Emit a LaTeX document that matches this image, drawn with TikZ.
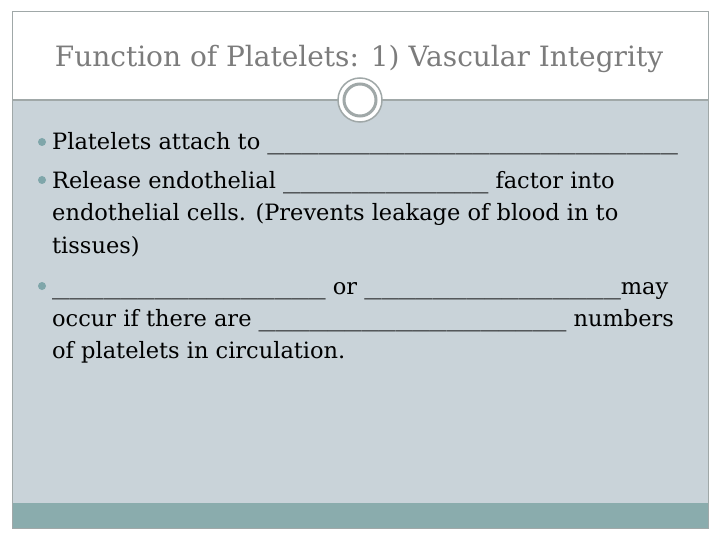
\documentclass[tikz,border=0pt]{standalone}
\usepackage{fontspec}
\setmainfont{DejaVu Serif}
\newfontfamily\blankfont[FakeStretch=1.52]{DejaVu Serif}
\newcommand\blk[1]{{\blankfont #1}}
\definecolor{bodyfill}{HTML}{C9D3D9}
\definecolor{barfill}{HTML}{8AACAD}
\definecolor{bul}{HTML}{7FA6AA}
\definecolor{titlec}{HTML}{7C7C7C}
\definecolor{framec}{HTML}{A0A8A8}
\tikzset{ln/.style={anchor=base west,inner sep=0pt,font=\fontsize{22.5}{28}\selectfont},
 bullet/.style={circle,fill=bul,inner sep=0pt,minimum size=8pt}}
\begin{document}
\begin{tikzpicture}[x=1pt,y=-1pt]
\useasboundingbox (0,0) rectangle (720,540);
\fill[white] (0,0) rectangle (720,540);
\fill[bodyfill] (12,100) rectangle (708,503);
\fill[barfill] (12,503) rectangle (708,528);
\draw[framec,line width=1pt] (12,12) rectangle (708,528);
\draw[framec,line width=1.5pt] (12,100) -- (708,100);
\node[circle,draw=framec,fill=white,line width=1.5pt,minimum size=44pt] (c) at (360,100) {};
\node[circle,draw=framec,line width=3pt,minimum size=32pt] (ci) at (360,100) {};
\node[anchor=base,inner sep=0pt,text=titlec,font=\fontsize{28}{32}\selectfont] (t) at (359,67) {Function of Platelets: 1) Vascular Integrity};
\node[bullet] (b1) at (42,142) {};
\node[bullet] (b2) at (42,180) {};
\node[bullet] (b3) at (42,286) {};
\node[ln] (l1) at (52,150) {Platelets attach to \blk{\_\_\_\_\_\_\_\_\_\_\_\_\_\_\_\_\_\_\_\_\_\_\_\_}};
\node[ln] (l2) at (52,189) {Release endothelial \blk{\_\_\_\_\_\_\_\_\_\_\_\_} factor into};
\node[ln] (l3) at (52,221) {endothelial cells.  (Prevents leakage of blood in to};
\node[ln] (l4) at (52,253) {tissues)};
\node[ln] (l5) at (52,294) {\blk{\_\_\_\_\_\_\_\_\_\_\_\_\_\_\_\_} or \blk{\_\_\_\_\_\_\_\_\_\_\_\_\_\_\_}may};
\node[ln] (l6) at (52,326) {occur if there are \blk{\_\_\_\_\_\_\_\_\_\_\_\_\_\_\_\_\_\_} numbers};
\node[ln] (l7) at (52,358) {of platelets in circulation.};
\end{tikzpicture}
\end{document}
